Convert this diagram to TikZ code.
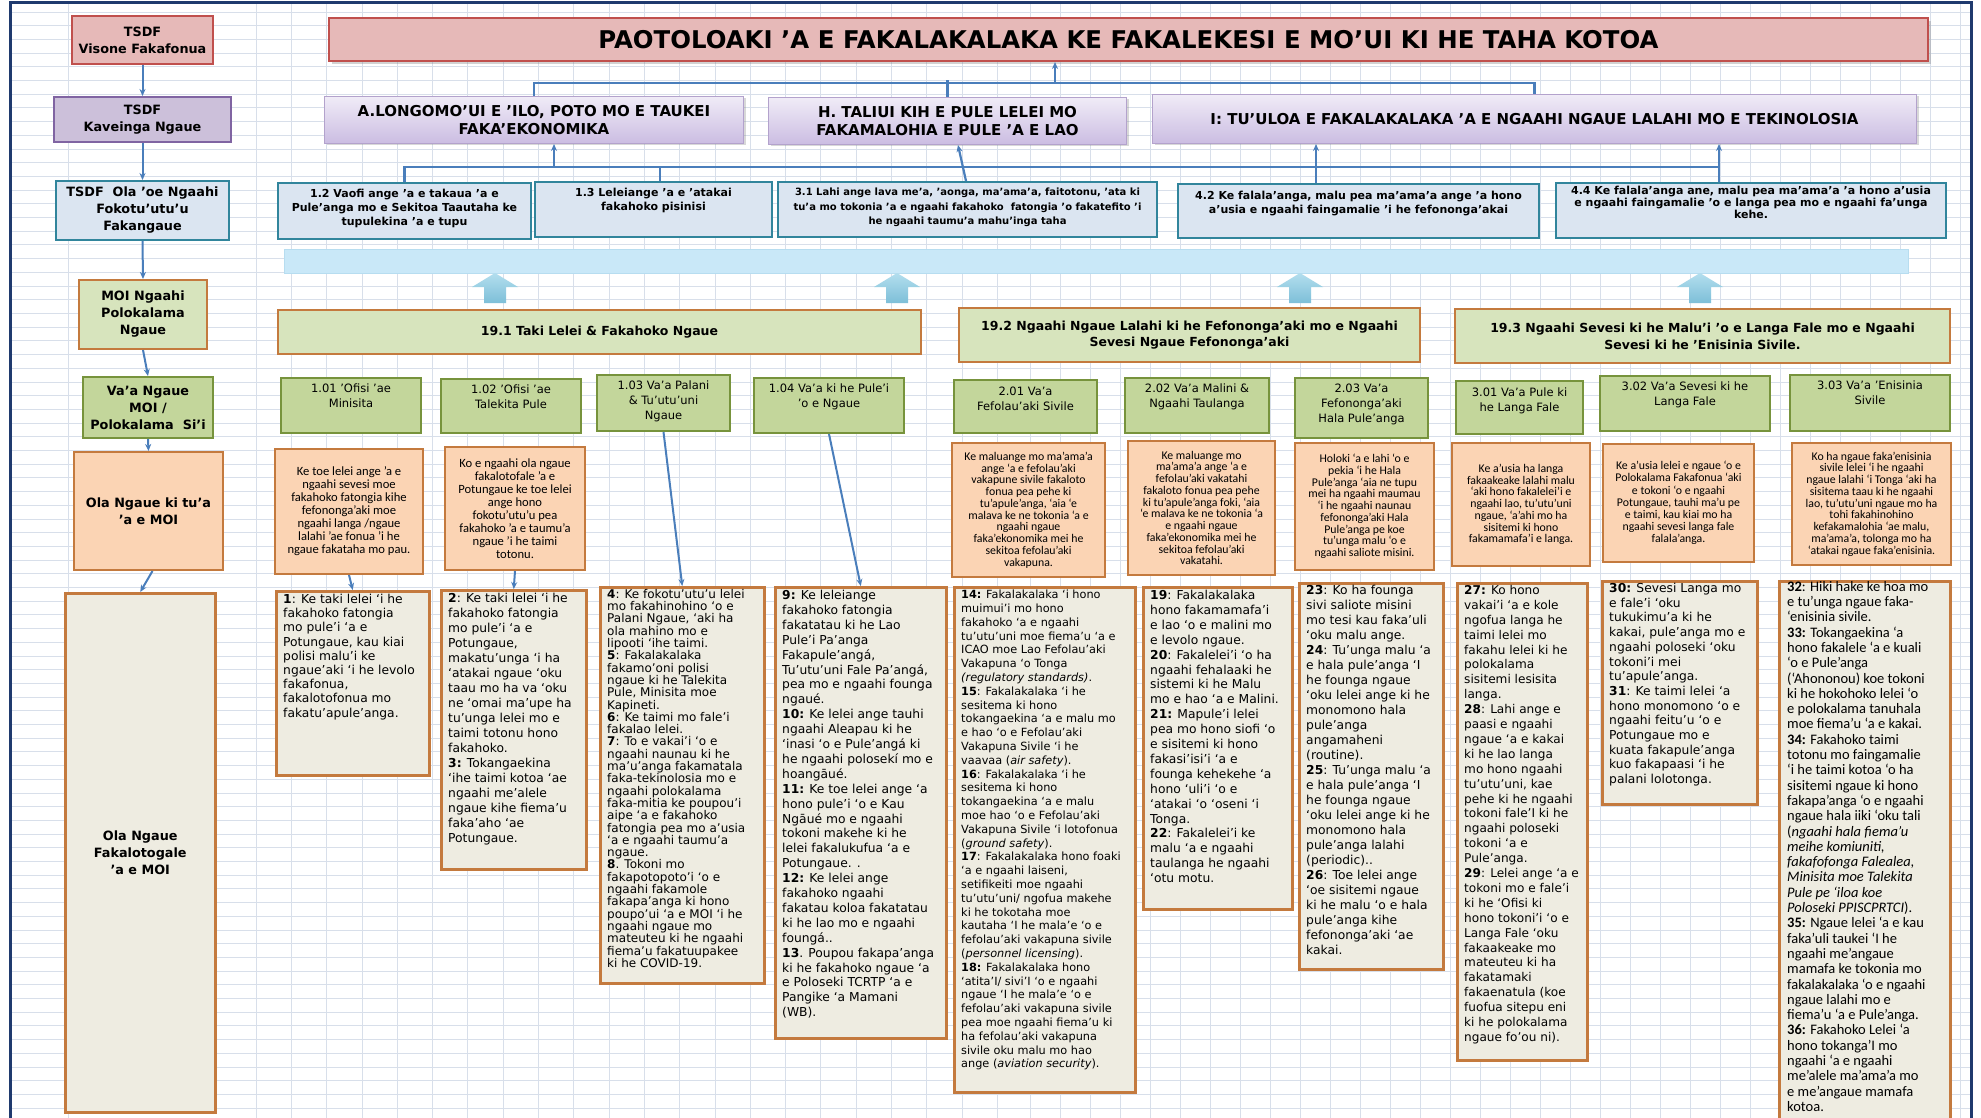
\documentclass[tikz,border=0pt]{standalone}
\usepackage{fontspec}
\setmainfont{DejaVu Sans}
\newfontfamily\carl{Carlito}
\usetikzlibrary{arrows.meta,shadows}
\definecolor{titlefill}{HTML}{E6B9B8}
\definecolor{titledraw}{HTML}{C0504D}
\definecolor{kavfill}{HTML}{CCC0DA}
\definecolor{kavdraw}{HTML}{8064A2}
\definecolor{blfill}{HTML}{DBE5F1}
\definecolor{bldraw}{HTML}{31859C}
\definecolor{lgfill}{HTML}{D7E4BD}
\definecolor{gfill}{HTML}{C3D69B}
\definecolor{gdraw}{HTML}{77933C}
\definecolor{ofill}{HTML}{FBD4B4}
\definecolor{odraw}{HTML}{C47A3E}
\definecolor{bfill}{HTML}{EEECE1}
\definecolor{bandfill}{HTML}{C9E8F8}
\definecolor{bandline}{HTML}{B7DDF0}
\definecolor{arrtop}{HTML}{B3DEEE}
\definecolor{arrbot}{HTML}{7DBFD8}
\definecolor{conncol}{HTML}{4A7EBB}
\definecolor{gridcol}{HTML}{D8DFEA}
\definecolor{navy}{HTML}{1F3A6E}
\definecolor{lavtop}{HTML}{F0EBF7}
\definecolor{lavbot}{HTML}{CBBDE2}
\definecolor{lavdraw}{HTML}{B3A2CC}
\newcommand\BX[6]{\node[bx,#1,minimum width={#4-#2},minimum height={#5-#3}] (#6) at (#2,#3) {};}
\newcommand\FS[2]{\fontsize{#1}{#2}\selectfont}
\begin{document}
\begin{tikzpicture}[x=1pt,y=-1pt,
  bx/.style={rectangle,inner sep=0pt,anchor=north west},
  lred/.style={fill=titlefill,draw=titledraw,line width=2pt},
  lpur/.style={fill=kavfill,draw=kavdraw,line width=2pt},
  lblue/.style={fill=blfill,draw=bldraw,line width=2pt},
  lgor/.style={fill=lgfill,draw=odraw,line width=2pt},
  g2/.style={fill=gfill,draw=gdraw,line width=2pt},
  orng/.style={fill=ofill,draw=odraw,line width=2pt},
  beige/.style={fill=bfill,draw=odraw,line width=2.5pt},
  tit/.style={fill=titlefill,draw=titledraw,line width=2pt,drop shadow={shadow xshift=3pt,shadow yshift=-3pt,opacity=0.35}},
  lav/.style={top color=lavtop,bottom color=lavbot,draw=lavdraw,line width=1pt,drop shadow={shadow xshift=2pt,shadow yshift=-2pt,opacity=0.3}},
  band/.style={fill=bandfill,draw=bandline,line width=1pt},
  ltxt/.style={font=\bfseries\FS{12.8}{17},align=center,inner sep=0pt},
  l2txt/.style={font=\bfseries\FS{15}{18},align=center,inner sep=0pt},
  l3txt/.style={font=\bfseries\FS{11}{14},align=center,inner sep=0pt,anchor=north},
  s19txt/.style={font=\bfseries\FS{12.5}{16.7},align=center,inner sep=0pt},
  g5txt/.style={font=\FS{11.5}{14.7},align=center,inner sep=0pt,anchor=north},
  dtxt/.style={font=\carl\FS{11.8}{11.75},align=center,inner sep=0pt},
  btxt/.style={align=left,inner sep=0pt,anchor=north west},
  conn/.style={draw=conncol,line width=2.2pt},
  arr/.style={draw=conncol,line width=2pt,-{Stealth[length=7pt,width=6pt]}},
  gridl/.style={draw=gridcol,line width=0.8pt}
]
\useasboundingbox (0,0) rectangle (1981,1118);
\clip (0,0) rectangle (1981,1118);
\fill[white] (0,0) rectangle (1981,1118);
% spreadsheet grid
\foreach \gy in {12,25.7,...,1118} \draw[gridl] (10,\gy) -- (1971,\gy);
\foreach \gx in {68,256,291.3,...,1000} \draw[gridl] (\gx,3) -- (\gx,1118);
\foreach \gx in {1030,1060,...,1965} \draw[gridl] (\gx,3) -- (\gx,1118);
% frame
\draw[navy,line width=3pt] (10,1118) -- (10,3) -- (1971,3) -- (1971,1118);

% ---------- left column ----------
\BX{lred}{71}{15}{212}{63}{vis}
\node[ltxt] (vist) at (vis.center) {TSDF\\Visone Fakafonua};
\BX{lpur}{53}{96}{230}{141}{kav}
\node[ltxt] (kavt) at (kav.center) {TSDF\\Kaveinga Ngaue};
\BX{lblue}{55}{180}{228}{239}{tola}
\node[ltxt] (tolat) at (tola.center) {TSDF\ \ Ola ’oe Ngaahi\\Fokotu’utu’u\\Fakangaue};
\BX{lgor}{78}{279}{206}{348}{moip}
\node[ltxt] (moipt) at (moip.center) {MOI Ngaahi\\Polokalama\\Ngaue};
\BX{g2}{82}{376}{212}{437}{vaa}
\node[ltxt] (vaat) at (vaa.center) {Va’a Ngaue\\MOI /\\Polokalama\ \ Si’i};
\BX{orng}{73}{451}{222}{569}{oltu}
\node[ltxt] (oltut) at (oltu.center) {Ola Ngaue ki tu’a\\’a e MOI};
\BX{beige}{64}{592}{214}{1111}{olfak}
\node[ltxt] (olfakt) at (olfak.center) {Ola Ngaue\\Fakalotogale\\’a e MOI};

\draw[arr] (vis.south) -- (kav.north);
\draw[arr] (kav.south) -- (tola.north);
\draw[arr] (tola.south) -- (moip.north);
\draw[arr] (moip.south) -- (vaa.north);
\draw[arr] (vaa.south) -- (oltu.north);
\draw[arr] ([xshift=4pt]oltu.south) -- (olfak.north);

% ---------- title ----------
\BX{tit}{328}{17}{1927}{60}{title}
\node[font=\bfseries\FS{24.4}{28},inner sep=0pt] (titlet) at (title.center) {PAOTOLOAKI ’A E FAKALAKALAKA KE FAKALEKESI E MO’UI KI HE TAHA KOTOA};

% ---------- level 2 ----------
\BX{lav}{324}{96}{743}{143}{A}
\node[l2txt] (At) at (A.center) {A.LONGOMO’UI E ’ILO, POTO MO E TAUKEI\\FAKA’EKONOMIKA};
\BX{lav}{768}{97}{1126}{144}{H}
\node[l2txt] (Ht) at (H.center) {H. TALIUI KIH E PULE LELEI MO\\FAKAMALOHIA E PULE ’A E LAO};
\BX{lav}{1152}{94}{1916}{143}{I}
\node[l2txt] (It) at (I.center) {I: TU’ULOA E FAKALAKALAKA ’A E NGAAHI NGAUE LALAHI MO E TEKINOLOSIA};

% top bracket
\coordinate (brT) at (1055,83);
\draw[conn] (A.north) |- (brT) -| (I.north);
\draw[conn] (H.north) -- ([yshift=3pt]H.north |- brT);
\draw[arr,line width=2.2pt] (brT) -- (brT |- title.south);

% ---------- level 3 ----------
\BX{lblue}{277}{182}{530}{238}{l12}
\node[l3txt] (l12t) at ([yshift=-7pt]l12.north) {1.2 Vaofi ange ’a e takaua ’a e\\Pule’anga mo e Sekitoa Taautaha ke\\tupulekina ’a e tupu};
\BX{lblue}{534}{181}{771}{236}{l13}
\node[l3txt] (l13t) at ([yshift=-7pt]l13.north) {1.3 Leleiange ’a e ’atakai\\fakahoko pisinisi};
\BX{lblue}{777}{181}{1156}{236}{l31}
\node[l3txt,font=\bfseries\FS{10}{14.5}] (l31t) at ([yshift=-7pt]l31.north) {3.1 Lahi ange lava me’a, ’aonga, ma’ama’a, faitotonu, ’ata ki\\tu’a mo tokonia ’a e ngaahi fakahoko\ \ fatongia ’o fakatefito ’i\\he ngaahi taumu’a mahu’inga taha};
\BX{lblue}{1177}{183}{1538}{237}{l42}
\node[l3txt] (l42t) at ([yshift=-8pt]l42.north) {4.2 Ke falala’anga, malu pea ma’ama’a ange ’a hono\\a’usia e ngaahi faingamalie ’i he fefononga’akai};
\BX{lblue}{1555}{182}{1945}{237}{l44}
\node[l3txt,font=\bfseries\FS{11}{12.2}] (l44t) at ([yshift=-4pt]l44.north) {4.4 Ke falala’anga ane, malu pea ma’ama’a ’a hono a’usia\\e ngaahi faingamalie ’o e langa pea mo e ngaahi fa’unga\\kehe.};

% lower bracket and arrows
\coordinate (bb) at (1719,167);
\coordinate (b13) at (660,167);
\coordinate (bA) at (554,167);
\coordinate (p31) at (966,0);
\coordinate (pH) at (958,0);
\coordinate (p42) at (1316,0);
\draw[conn] (l12.north) |- (bb);
\draw[conn] (b13) -- (l13.north -| b13);
\draw[arr,line width=2.2pt] (bA) -- (A.south -| bA);
\draw[arr,line width=2.2pt] (l31.north -| p31) -- (H.south -| pH);
\draw[arr,line width=2.2pt] (l42.north -| p42) -- (I.south -| p42);
\draw[arr,line width=2.2pt] (l44.north -| bb) -- (I.south -| bb);

% ---------- band and block arrows ----------
\BX{band}{284}{249}{1908}{273}{band}
\foreach \ax in {495,897,1300,1700}
  \shade[top color=arrtop,bottom color=arrbot] (\ax,273) -- ++(23,14) -- ++(-12,0) -- ++(0,16) -- ++(-22,0) -- ++(0,-16) -- ++(-12,0) -- cycle;

% ---------- 19.x ----------
\BX{lgor}{277}{309}{920}{353}{s191}
\node[s19txt] (s191t) at (s191.center) {19.1 Taki Lelei \& Fakahoko Ngaue};
\BX{lgor}{958}{307}{1419}{361}{s192}
\node[s19txt] (s192t) at (s192.center) {19.2 Ngaahi Ngaue Lalahi ki he Fefononga’aki mo e Ngaahi\\Sevesi Ngaue Fefononga’aki};
\BX{lgor}{1454}{308}{1949}{362}{s193}
\node[s19txt] (s193t) at (s193.center) {19.3 Ngaahi Sevesi ki he Malu’i ’o e Langa Fale mo e Ngaahi\\Sevesi ki he ’Enisinia Sivile.};

% ---------- level 5 ----------
\BX{g2}{280}{377}{420}{432}{v101}
\node[g5txt] (v101t) at ([yshift=-7pt]v101.north) {1.01 ’Ofisi ’ae\\Minisita};
\BX{g2}{440}{378}{580}{432}{v102}
\node[g5txt] (v102t) at ([yshift=-7pt]v102.north) {1.02 ’Ofisi ’ae\\Talekita Pule};
\BX{g2}{596}{374}{729}{430}{v103}
\node[g5txt] (v103t) at ([yshift=-7pt]v103.north) {1.03 Va’a Palani\\\& Tu’utu’uni\\Ngaue};
\BX{g2}{753}{377}{903}{432}{v104}
\node[g5txt] (v104t) at ([yshift=-7pt]v104.north) {1.04 Va’a ki he Pule’i\\’o e Ngaue};
\BX{g2}{953}{379}{1096}{432}{v201}
\node[g5txt] (v201t) at ([yshift=-8pt]v201.north) {2.01 Va’a\\Fefolau’aki Sivile};
\BX{g2}{1124}{377}{1268}{432}{v202}
\node[g5txt] (v202t) at ([yshift=-7pt]v202.north) {2.02 Va’a Malini \&\\Ngaahi Taulanga};
\BX{g2}{1294}{377}{1427}{437}{v203}
\node[g5txt] (v203t) at ([yshift=-7pt]v203.north) {2.03 Va’a\\Fefononga’aki\\Hala Pule’anga};
\BX{g2}{1455}{380}{1582}{433}{v301}
\node[g5txt] (v301t) at ([yshift=-8pt]v301.north) {3.01 Va’a Pule ki\\he Langa Fale};
\BX{g2}{1599}{375}{1769}{430}{v302}
\node[g5txt] (v302t) at ([yshift=-7pt]v302.north) {3.02 Va’a Sevesi ki he\\Langa Fale};
\BX{g2}{1789}{374}{1949}{430}{v303}
\node[g5txt] (v303t) at ([yshift=-7pt]v303.north) {3.03 Va’a ’Enisinia\\Sivile};

% ---------- orange description boxes ----------
\BX{orng}{274}{448}{422}{573}{d101}
\node[dtxt,font=\carl\FS{12.6}{13}] (d101t) at (d101.center) {Ke toe lelei ange ’a e\\ngaahi sevesi moe\\fakahoko fatongia kihe\\fefononga’aki moe\\ngaahi langa /ngaue\\lalahi ’ae fonua ’i he\\ngaue fakataha mo pau.};
\BX{orng}{444}{446}{584}{569}{d102}
\node[dtxt,font=\carl\FS{12.6}{13}] (d102t) at (d102.center) {Ko e ngaahi ola ngaue\\fakalotofale ’a e\\Potungaue ke toe lelei\\ange hono\\fokotu’utu’u pea\\fakahoko ’a e taumu’a\\ngaue ’i he taimi\\totonu.};
\BX{orng}{951}{442}{1104}{576}{d201}
\node[dtxt] (d201t) at (d201.center) {Ke maluange mo ma’ama’a\\ange ‘a e fefolau’aki\\vakapune sivile fakaloto\\fonua pea pehe ki\\tu’apule’anga, ‘aia ‘e\\malava ke ne tokonia ‘a e\\ngaahi ngaue\\faka’ekonomika mei he\\sekitoa fefolau’aki\\vakapuna.};
\BX{orng}{1127}{440}{1274}{574}{d202}
\node[dtxt] (d202t) at (d202.center) {Ke maluange mo\\ma’ama’a ange ‘a e\\fefolau’aki vakatahi\\fakaloto fonua pea pehe\\ki tu’apule’anga foki, ‘aia\\‘e malava ke ne tokonia ‘a\\e ngaahi ngaue\\faka’ekonomika mei he\\sekitoa fefolau’aki\\vakatahi.};
\BX{orng}{1294}{442}{1433}{569}{d203}
\node[dtxt] (d203t) at (d203.center) {Holoki ‘a e lahi ‘o e\\pekia ‘i he Hala\\Pule’anga ‘aia ne tupu\\mei ha ngaahi maumau\\‘i he ngaahi naunau\\fefononga’aki Hala\\Pule’anga pe koe\\tu’unga malu ‘o e\\ngaahi saliote misini.};
\BX{orng}{1451}{442}{1589}{565}{d301}
\node[dtxt] (d301t) at (d301.center) {Ke a’usia ha langa\\fakaakeake lalahi malu\\‘aki hono fakalelei’i e\\ngaahi lao, tu’utu’uni\\ngaue, ‘a’ahi mo ha\\sisitemi ki hono\\fakamamafa’i e langa.};
\BX{orng}{1602}{443}{1753}{561}{d302}
\node[dtxt,font=\carl\FS{11.8}{12.2}] (d302t) at (d302.center) {Ke a’usia lelei e ngaue ‘o e\\Polokalama Fakafonua ‘aki\\e tokoni ‘o e ngaahi\\Potungaue, tauhi ma’u pe\\e taimi, kau kiai mo ha\\ngaahi sevesi langa fale\\falala’anga.};
\BX{orng}{1791}{442}{1950}{564}{d303}
\node[dtxt] (d303t) at (d303.center) {Ko ha ngaue faka’enisinia\\sivile lelei ‘i he ngaahi\\ngaue lalahi ‘i Tonga ‘aki ha\\sisitema taau ki he ngaahi\\lao, tu’utu’uni ngaue mo ha\\tohi fakahinohino\\kefakamalohia ‘ae malu,\\ma’ama’a, tolonga mo ha\\‘atakai ngaue faka’enisinia.};

% ---------- bottom boxes ----------
\BX{beige}{275}{590}{428}{774}{b1}
\node[btxt,font=\FS{12.3}{14.2}] (b1t) at ([shift={(8,4)}]b1.north west) {\textbf{1}: Ke taki lelei ‘i he\\fakahoko fatongia\\mo pule’i ‘a e\\Potungaue, kau kiai\\polisi malu’i ke\\ngaue’aki ‘i he levolo\\fakafonua,\\fakalotofonua mo\\fakatu’apule’anga.};
\BX{beige}{440}{589}{585}{868}{b2}
\node[btxt,font=\FS{12.3}{15}] (b2t) at ([shift={(8,4)}]b2.north west) {\textbf{2}: Ke taki lelei ‘i he\\fakahoko fatongia\\mo pule’i ‘a e\\Potungaue,\\makatu’unga ‘i ha\\‘atakai ngaue ‘oku\\taau mo ha va ‘oku\\ne ‘omai ma’upe ha\\tu’unga lelei mo e\\taimi totonu hono\\fakahoko.\\\textbf{3:} Tokangaekina\\‘ihe taimi kotoa ‘ae\\ngaahi me’alele\\ngaue kihe fiema’u\\faka’aho ‘ae\\Potungaue.};
\BX{beige}{599}{586}{763}{982}{b4}
\node[btxt,font=\FS{12}{12.3}] (b4t) at ([shift={(8,3)}]b4.north west) {\textbf{4}: Ke fokotu’utu’u lelei\\mo fakahinohino ‘o e\\Palani Ngaue, ‘aki ha\\ola mahino mo e\\lipooti ‘ihe taimi.\\\textbf{5}: Fakalakalaka\\fakamo’oni polisi\\ngaue ki he Talekita\\Pule, Minisita moe\\Kapineti.\\\textbf{6}: Ke taimi mo fale’i\\fakalao lelei.\\\textbf{7}: To e vakai’i ‘o e\\ngaahi naunau ki he\\ma’u’anga fakamatala\\faka-tekinolosia mo e\\ngaahi polokalama\\faka-mitia ke poupou’i\\aipe ‘a e fakahoko\\fatongia pea mo a’usia\\‘a e ngaahi taumu’a\\ngaue.\\\textbf{8}. Tokoni mo\\fakapotopoto’i ‘o e\\ngaahi fakamole\\fakapa’anga ki hono\\poupo’ui ‘a e MOI ‘i he\\ngaahi ngaue mo\\mateuteu ki he ngaahi\\fiema’u fakatuupakee\\ki he COVID-19.};
\BX{beige}{774}{586}{945}{1037}{b9}
\node[btxt,font=\FS{12.3}{14.9}] (b9t) at ([shift={(8,4)}]b9.north west) {\textbf{9:} Ke leleiange\\fakahoko fatongia\\fakatatau ki he Lao\\Pule’i Pa’anga\\Fakapule’angá,\\Tu’utu’uni Fale Pa’angá,\\pea mo e ngaahi founga\\ngaué.\\\textbf{10:} Ke lelei ange tauhi\\ngaahi Aleapau ki he\\‘inasi ‘o e Pule’angá ki\\he ngaahi polosekí mo e\\hoangāué.\\\textbf{11:} Ke toe lelei ange ‘a\\hono pule’i ‘o e Kau\\Ngāué mo e ngaahi\\tokoni makehe ki he\\lelei fakalukufua ‘a e\\Potungaue. .\\\textbf{12:} Ke lelei ange\\fakahoko ngaahi\\fakatau koloa fakatatau\\ki he lao mo e ngaahi\\foungá..\\\textbf{13}. Poupou fakapa’anga\\ki he fakahoko ngaue ‘a\\e Poloseki TCRTP ‘a e\\Pangike ‘a Mamani\\(WB).};
\BX{beige}{953}{586}{1134}{1091}{b14}
\node[btxt,font=\FS{11.3}{13.8}] (b14t) at ([shift={(8,4)}]b14.north west) {\textbf{14:} Fakalakalaka ‘i hono\\muimui’i mo hono\\fakahoko ‘a e ngaahi\\tu’utu’uni moe fiema’u ‘a e\\ICAO moe Lao Fefolau’aki\\Vakapuna ‘o Tonga\\\textit{(regulatory standards)}.\\\textbf{15}: Fakalakalaka ‘i he\\sesitema ki hono\\tokangaekina ‘a e malu mo\\e hao ‘o e Fefolau’aki\\Vakapuna Sivile ‘i he\\vaavaa (\textit{air safety}).\\\textbf{16}: Fakalakalaka ‘i he\\sesitema ki hono\\tokangaekina ‘a e malu\\moe hao ‘o e Fefolau’aki\\Vakapuna Sivile ‘i lotofonua\\(\textit{ground safety}).\\\textbf{17}: Fakalakalaka hono foaki\\‘a e ngaahi laiseni,\\setifikeiti moe ngaahi\\tu’utu’uni/ ngofua makehe\\ki he tokotaha moe\\kautaha ‘I he mala’e ‘o e\\fefolau’aki vakapuna sivile\\(\textit{personnel licensing}).\\\textbf{18:} Fakalakalaka hono\\‘atita’I/ sivi’I ‘o e ngaahi\\ngaue ‘I he mala’e ‘o e\\fefolau’aki vakapuna sivile\\pea moe ngaahi fiema’u ki\\ha fefolau’aki vakapuna\\sivile oku malu mo hao\\ange (\textit{aviation security}).};
\BX{beige}{1142}{586}{1291}{908}{b19}
\node[btxt,font=\FS{12.3}{14.9}] (b19t) at ([shift={(8,4)}]b19.north west) {\textbf{19}: Fakalakalaka\\hono fakamamafa’i\\e lao ‘o e malini mo\\e levolo ngaue.\\\textbf{20}: Fakalelei’i ‘o ha\\ngaahi fehalaaki he\\sistemi ki he Malu\\mo e hao ‘a e Malini.\\\textbf{21:} Mapule’i lelei\\pea mo hono siofi ‘o\\e sisitemi\ ki hono\\fakasi’isi’i ‘a e\\founga kehekehe ‘a\\hono ‘uli’i ‘o e\\‘atakai ‘o ‘oseni ‘i\\Tonga.\\\textbf{22}: Fakalelei’i ke\\malu ‘a e ngaahi\\taulanga he ngaahi\\‘otu motu.};
\BX{beige}{1298}{582}{1442}{968}{b23}
\node[btxt,font=\FS{12.3}{15}] (b23t) at ([shift={(8,3)}]b23.north west) {\textbf{23}: Ko ha founga\\sivi saliote misini\\mo tesi kau faka’uli\\‘oku malu ange.\\\textbf{24}: Tu’unga malu ‘a\\e hala pule’anga ‘I\\he founga ngaue\\‘oku lelei ange ki he\\monomono hala\\pule’anga\\angamaheni\\(routine).\\\textbf{25}: Tu’unga malu ‘a\\e hala pule’anga ‘I\\he founga ngaue\\‘oku lelei ange ki he\\monomono hala\\pule’anga lalahi\\(periodic)..\\\textbf{26}: Toe lelei ange\\‘oe sisitemi\ ngaue\\ki he malu ‘o e hala\\pule’anga kihe\\fefononga’aki ‘ae\\kakai.};
\BX{beige}{1456}{582}{1586}{1059}{b27}
\node[btxt,font=\FS{12.1}{14.9}] (b27t) at ([shift={(8,3)}]b27.north west) {\textbf{27:} Ko hono\\vakai’i ‘a e kole\\ngofua langa he\\taimi lelei\ mo\\fakahu lelei ki he\\polokalama\\sisitemi lesisita\\langa.\\\textbf{28}: Lahi ange e\\paasi e ngaahi\\ngaue ‘a e kakai\\ki he lao langa\\mo hono ngaahi\\tu’utu’uni, kae\\pehe ki he ngaahi\\tokoni fale’I ki he\\ngaahi poloseki\\tokoni ‘a e\\Pule’anga.\\\textbf{29}: Lelei ange ‘a e\\tokoni mo e fale’i\\ki he ‘Ofisi ki\\hono tokoni’i ‘o e\\Langa Fale ‘oku\\fakaakeake mo\\mateuteu ki ha\\fakatamaki\\fakaenatula (koe\\fuofua sitepu eni\\ki he polokalama\\ngaue fo’ou ni).};
\BX{beige}{1601}{580}{1756}{803}{b30}
\node[btxt,font=\FS{12.3}{14.7}] (b30t) at ([shift={(8,3)}]b30.north west) {\textbf{30:} Sevesi Langa mo\\e fale’i ‘oku\\tukukimu’a ki he\\kakai, pule’anga mo e\\ngaahi poloseki ‘oku\\tokoni’i mei\\tu’apule’anga.\\\textbf{31}: Ke taimi lelei\ ‘a\\hono monomono ‘o e\\ngaahi feitu’u ‘o e\\Potungaue mo e\\kuata fakapule’anga\\kuo fakapaasi ‘i he\\palani lolotonga.};
\BX{beige}{1778}{580}{1949}{1130}{b32}
\node[btxt,font=\carl\FS{14.5}{15.3}] (b32t) at ([shift={(9,1)}]b32.north west) {\textbf{32}: Hiki hake ke hoa mo\\e tu’unga ngaue faka-\\‘enisinia sivile.\\\textbf{33:} Tokangaekina ‘a\\hono fakalele ‘a e kuali\\‘o e Pule’anga\\(‘Ahononou) koe tokoni\\ki he hokohoko lelei ‘o\\e polokalama tanuhala\\moe fiema’u ‘a e kakai.\\\textbf{34:} Fakahoko taimi\\totonu mo faingamalie\\‘i he taimi kotoa ‘o ha\\sisitemi ngaue ki hono\\fakapa’anga ‘o e ngaahi\\ngaue hala iiki ‘oku tali\\(\textit{ngaahi hala fiema’u}\\\textit{meihe komiuniti,}\\\textit{fakafofonga Falealea,}\\\textit{Minisita moe Talekita}\\\textit{Pule pe ‘iloa koe}\\\textit{Poloseki PPISCPRTCI}).\\\textbf{35:} Ngaue lelei ‘a e kau\\faka’uli taukei ‘I he\\ngaahi me’angaue\\mamafa ke tokonia mo\\fakalakalaka ‘o e ngaahi\\ngaue lalahi mo e\\fiema’u ‘a e Pule’anga.\\\textbf{36:} Fakahoko Lelei ‘a\\hono tokanga’I mo\\ngaahi ‘a e ngaahi\\me’alele ma’ama’a mo\\e me’angaue mamafa\\kotoa.};

% ---------- description arrows ----------
\draw[arr] (d101.south) -- (b1.north);
\draw[arr] (d102.south) -- (b2.north);
\draw[arr] (v103.south) -- (b4.north);
\draw[arr] (v104.south) -- (b9.north);
\end{tikzpicture}
\end{document}
